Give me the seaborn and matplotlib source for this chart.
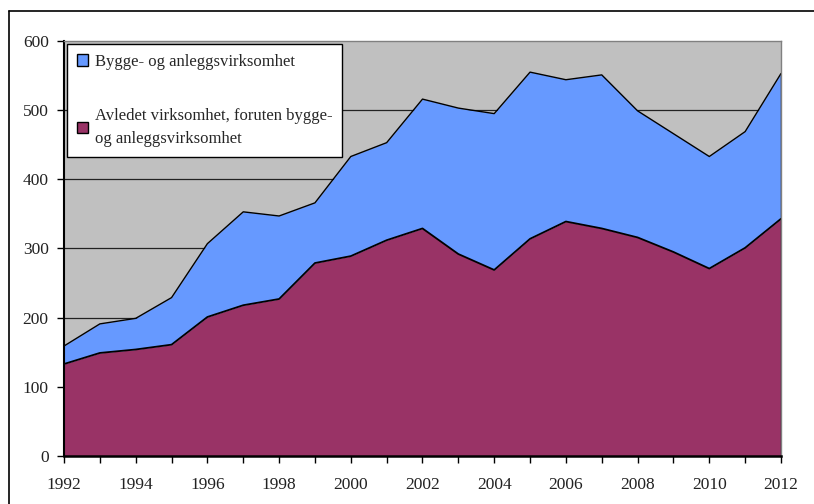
import numpy as np
import pandas as pd
import matplotlib
matplotlib.use("Agg")
import matplotlib.pyplot as plt
import seaborn as sns
from matplotlib.patches import Patch
from matplotlib.lines import Line2D

# data
years = list(range(1992, 2013))
avledet = [133, 149, 154, 161, 201, 218, 227, 279, 289, 312, 329,
           292, 269, 314, 339, 329, 316, 295, 271, 301, 343]
bygge = [26, 42, 45, 68, 106, 135, 120, 87, 144, 141, 187,
         211, 226, 241, 205, 222, 183, 171, 162, 168, 210]
labels = ["Bygge- og anleggsvirksomhet",
          "Avledet virksomhet, foruten bygge-\nog anleggsvirksomhet"]
colors = {"bygge": "#6699FF", "avledet": "#993366"}

df = pd.DataFrame({"year": years, "avledet": avledet, "bygge": bygge})
df["total"] = df["avledet"] + df["bygge"]

sns.set_style("white")
plt.rcParams["font.family"] = ["Liberation Serif", "DejaVu Serif"]
plt.rcParams["font.size"] = 12.5

fig = plt.figure(figsize=(8.14, 5.04), dpi=100)
ax = fig.add_axes([64 / 814, 1 - 456 / 504, (781 - 64) / 814, (456 - 41) / 504])
ax.set_facecolor("#C0C0C0")

# stacked areas
ax.fill_between(df["year"], 0, df["avledet"], color=colors["avledet"], zorder=2, lw=0)
ax.fill_between(df["year"], df["avledet"], df["total"], color=colors["bygge"], zorder=2, lw=0)
sns.lineplot(data=df, x="year", y="avledet", color="black", lw=1.3, ax=ax, zorder=3)
sns.lineplot(data=df, x="year", y="total", color="black", lw=1.0, ax=ax, zorder=3)
ax.plot([2012, 2012], [0, df["total"].iloc[-1]], color="black", lw=1.0, zorder=3)

ax.set_xlim(1992, 2012)
ax.set_ylim(0, 600)
ax.set_xticks(years, minor=True)
ax.set_xticks(years[::2])
ax.set_yticks(range(0, 601, 100))
ax.set_xlabel("")
ax.set_ylabel("")

for y in range(100, 600, 100):
    ax.axhline(y, color="#222222", lw=0.9, zorder=1)

ax.tick_params(axis="both", which="both", direction="out", colors="black",
               labelcolor="#222222", labelsize=12.5)
ax.tick_params(axis="x", which="major", length=5, width=1, pad=10)
ax.tick_params(axis="x", which="minor", length=5, width=1)
ax.tick_params(axis="y", length=5, width=1, pad=6)
ax.tick_params(left=True, bottom=True, which="both")

for side in ["top", "right"]:
    ax.spines[side].set_color("#808080")
    ax.spines[side].set_linewidth(1.0)
ax.spines["left"].set_color("black")
ax.spines["left"].set_linewidth(1.5)
ax.spines["bottom"].set_color("black")
ax.spines["bottom"].set_linewidth(1.8)
for s in ax.spines.values():
    s.set_zorder(4)

handles = [Patch(facecolor=colors["bygge"], edgecolor="black", lw=1),
           Patch(facecolor=colors["avledet"], edgecolor="black", lw=1)]
leg = ax.legend(handles, labels, loc="upper left", bbox_to_anchor=(0.0, 1.0),
                borderaxespad=0.15, fancybox=False, framealpha=1, edgecolor="black",
                handlelength=0.7, handleheight=0.7, handletextpad=0.4,
                labelspacing=2.3, borderpad=0.6, fontsize=12)
leg.get_frame().set_linewidth(1.0)
leg.set_zorder(5)
for t in leg.get_texts():
    t.set_linespacing(1.6)

# outer frame around the chart
fig.add_artist(Line2D([9 / 814, 1], [1 - 11 / 504, 1 - 11 / 504], color="black", lw=1.2))
fig.add_artist(Line2D([9 / 814, 9 / 814], [0, 1 - 11 / 504], color="black", lw=1.2))

fig.savefig("out.png", dpi=100)
